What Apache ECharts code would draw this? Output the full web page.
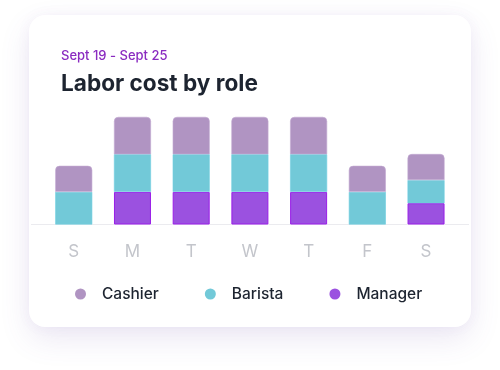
<!DOCTYPE html>
<html>
<head>
<meta charset="utf-8">
<script src="https://cdn.jsdelivr.net/npm/echarts@6/dist/echarts.min.js"></script>
<style>
  html, body { margin: 0; padding: 0; background: #ffffff; }
  #wrap { position: relative; width: 500px; height: 370px; overflow: hidden; background: #fff; }
  #card { position: absolute; left: 29px; top: 15px; width: 442px; height: 312px; background: #fff;
          border-radius: 16px; box-shadow: 0 12px 30px rgba(110, 80, 170, 0.13), 0 0 14px rgba(110, 80, 170, 0.05); }
  #chart { position: absolute; left: 0; top: 0; width: 500px; height: 370px; }
</style>
</head>
<body>
<div id="wrap">
  <div id="card"></div>
  <div id="chart"></div>
</div>
<script>
const days = ['S', 'M', 'T', 'W', 'T', 'F', 'S'];
const manager = [0, 130, 130, 130, 130, 0, 85];
const barista = [130, 150, 150, 150, 150, 130, 92];
const cashier = [104, 149, 149, 149, 149, 104, 104];
const subtitleText = 'Sept 19 - Sept 25';
const titleText = 'Labor cost by role';

const FONT = 'Inter, "Noto Sans", sans-serif';
const chart = echarts.init(document.getElementById('chart'), null, { renderer: 'canvas' });
const noZero = arr => arr.map(v => (v === 0 ? null : v));

chart.setOption({
  animation: false,
  backgroundColor: 'transparent',
  textStyle: { fontFamily: FONT },
  title: [
    { text: subtitleText, left: 56, top: 45,
      textStyle: { fontFamily: FONT, fontSize: 13, fontWeight: 500, color: '#8a2bc0' } },
    { text: titleText, left: 56, top: 67.5,
      textStyle: { fontFamily: FONT, fontSize: 22.6, fontWeight: 700, color: '#1d2430' } }
  ],
  legend: {
    left: 70, top: 281,
    icon: 'circle',
    itemWidth: 33, itemHeight: 11,
    itemGap: 46,
    itemStyle: { borderWidth: 0 },
    textStyle: { fontFamily: FONT, fontSize: 15.5, fontWeight: 500, color: '#1d2430' },
    data: ['Cashier', 'Barista', 'Manager']
  },
  grid: { left: 44.4, right: 44.6, top: 99.1, bottom: 145.5, containLabel: false },
  xAxis: {
    type: 'category',
    data: days,
    axisLine: { show: false },
    axisTick: { show: false },
    axisLabel: { margin: 18.5, fontFamily: FONT, fontSize: 17, color: '#c3c5cb' }
  },
  yAxis: { type: 'value', min: 0, max: 500, show: false, splitLine: { show: false } },
  graphic: [
    { type: 'line', z: 0, shape: { x1: 31, y1: 224.5, x2: 469, y2: 224.5 },
      style: { stroke: '#ebebef', lineWidth: 1.2 } }
  ],
  series: [
    { name: 'Manager', type: 'bar', stack: 'a', barWidth: 37, data: noZero(manager),
      itemStyle: { color: '#9b51e0', borderColor: '#9a1ee8', borderWidth: 1 } },
    { name: 'Barista', type: 'bar', stack: 'a', barWidth: 37, data: noZero(barista),
      itemStyle: { color: '#72c9d8', borderColor: '#6fcfe0', borderWidth: 0.6 } },
    { name: 'Cashier', type: 'bar', stack: 'a', barWidth: 37, data: noZero(cashier),
      itemStyle: { color: '#b094c2', borderColor: '#c2a9d2', borderWidth: 0.6, borderRadius: [4, 4, 0, 0] } }
  ]
});
</script>
</body>
</html>
